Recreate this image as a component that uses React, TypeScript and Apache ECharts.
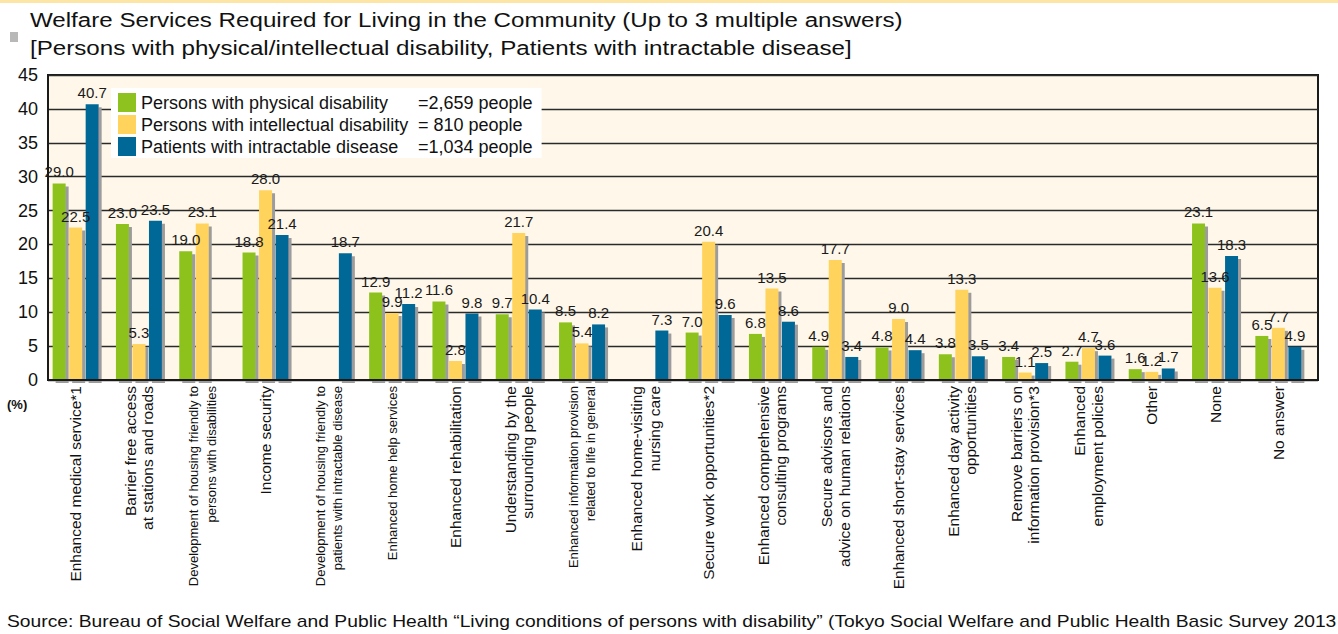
import React, { useEffect, useRef } from "react";
import * as echarts from "echarts";

const FONT = "'Liberation Sans', Arial, sans-serif";

const categories = [
  "Enhanced medical service*1",
  "Barrier free access\nat stations and roads",
  "Development of housing friendly to\npersons with disabilities",
  "Income security",
  "Development of housing friendly to\npatients with intractable disease",
  "Enhanced home help services",
  "Enhanced rehabilitation",
  "Understanding by the\nsurrounding people",
  "Enhanced information provision\nrelated to life in general",
  "Enhanced home-visiting\nnursing care",
  "Secure work opportunities*2",
  "Enhanced comprehensive\nconsulting programs",
  "Secure advisors and\nadvice on human relations",
  "Enhanced short-stay services",
  "Enhanced day activity\nopportunities",
  "Remove barriers on\ninformation provision*3",
  "Enhanced\nemployment policies",
  "Other",
  "None",
  "No answer",
];

// label font sizes per category
const labelSizes = [15.5, 15.5, 13, 15.5, 13, 13, 15.5, 15.5, 13, 15.5, 15.5, 15.5, 15.5, 15.5, 15.5, 15.5, 15.5, 15.5, 15.5, 15.5];

const seriesNames = [
  "Persons with physical disability",
  "Persons with intellectual disability",
  "Patients with intractable disease",
];
const seriesCounts = ["=2,659 people", "= 810 people", "=1,034 people"];
const seriesColors = ["#8DC21F", "#FFD35C", "#006897"];

const physical = [29.0, 23.0, 19.0, 18.8, null, 12.9, 11.6, 9.7, 8.5, null, 7.0, 6.8, 4.9, 4.8, 3.8, 3.4, 2.7, 1.6, 23.1, 6.5];
const intellectual = [22.5, 5.3, 23.1, 28.0, null, 9.9, 2.8, 21.7, 5.4, null, 20.4, 13.5, 17.7, 9.0, 13.3, 1.1, 4.7, 1.2, 13.6, 7.7];
const intractable = [40.7, 23.5, null, 21.4, 18.7, 11.2, 9.8, 10.4, 8.2, 7.3, 9.6, 8.6, 3.4, 4.4, 3.5, 2.5, 3.6, 1.7, 18.3, 4.9];

const yTicks = { min: 0, max: 45, interval: 5 };

const titleLine1 = "Welfare Services Required for Living in the Community (Up to 3 multiple answers)";
const titleLine2 = "[Persons with physical/intellectual disability, Patients with intractable disease]";
const sourceText =
  "Source: Bureau of Social Welfare and Public Health \u201cLiving conditions of persons with disability\u201d (Tokyo Social Welfare and Public Health Basic Survey 2013";

export default function App() {
  const ref = useRef<HTMLDivElement>(null);
  useEffect(() => {
    if (!ref.current) return;
    const chart = echarts.init(ref.current, undefined, { renderer: "svg" });
    const allData = [physical, intellectual, intractable];
    const option: any = {
      animation: false,
      backgroundColor: "#ffffff",
      textStyle: { fontFamily: FONT },
      grid: [
        {
          // frame grid
          left: 48,
          right: 20,
          top: 75,
          bottom: 254,
          show: true,
          backgroundColor: "#FFF8EA",
          borderColor: "#1a1a1a",
          borderWidth: 2,
        },
        {
          // bars grid
          left: 44,
          right: 28,
          top: 75,
          bottom: 254,
        },
      ],
      legend: {
        orient: "vertical",
        left: 111,
        top: 88,
        icon: "rect",
        itemWidth: 18,
        itemHeight: 19,
        itemGap: 3,
        padding: [5, 9, 2, 7],
        backgroundColor: "#ffffff",
        selectedMode: false,
        data: seriesNames,
        textStyle: {
          fontFamily: FONT,
          fontSize: 18,
          color: "#111",
          rich: {
            n: { width: 277, fontSize: 18, color: "#111", fontFamily: FONT },
            v: { fontSize: 18, color: "#111", fontFamily: FONT },
          },
        },
        formatter: (name: string) => {
          const i = seriesNames.indexOf(name);
          return `{n|${name}}{v|${seriesCounts[i]}}`;
        },
      },
      xAxis: [
        {
          gridIndex: 0,
          type: "value",
          min: 0,
          max: 1,
          z: 5,
          axisLine: { show: true, onZero: false, lineStyle: { color: "#1a1a1a", width: 2 } },
          axisTick: { show: false },
          axisLabel: { show: false },
          splitLine: { show: false },
        },
        {
          gridIndex: 1,
          type: "category",
          data: categories.map((c, i) => ({
            value: c,
            textStyle: { fontSize: labelSizes[i], lineHeight: 17.5 },
          })),
          axisLine: { show: false },
          axisTick: { show: false },
          axisLabel: {
            interval: 0,
            rotate: 90,
            margin: 6,
            color: "#111",
            fontFamily: FONT,
            fontSize: 15.5,
            lineHeight: 17.5,
          },
        },
      ],
      yAxis: [
        {
          gridIndex: 0,
          type: "value",
          min: yTicks.min,
          max: yTicks.max,
          interval: yTicks.interval,
          axisLine: { show: true, lineStyle: { color: "#1a1a1a", width: 2 } },
          axisTick: { show: false },
          axisLabel: { color: "#111", fontSize: 18, margin: 10, fontFamily: FONT },
          splitLine: { show: true, lineStyle: { color: "#2a2a2a", width: 1.3 } },
        },
        {
          gridIndex: 1,
          type: "value",
          min: yTicks.min,
          max: yTicks.max,
          interval: yTicks.interval,
          show: false,
          splitLine: { show: false },
        },
      ],
      series: allData.map((d, si) => ({
        name: seriesNames[si],
        type: "bar",
        xAxisIndex: 1,
        yAxisIndex: 1,
        data: d.map((v) => (v === null ? "-" : v)),
        barWidth: 13,
        barGap: "27%",
        itemStyle: {
          color: seriesColors[si],
          shadowColor: "#9c9c9c",
          shadowOffsetX: 3,
          shadowOffsetY: 3,
          shadowBlur: 0,
        },
        label: {
          show: true,
          position: "top",
          distance: 4,
          color: "#1a1a1a",
          fontSize: 15,
          fontFamily: FONT,
          formatter: (p: any) => Number(p.value).toFixed(1),
        },
      })),
      graphic: [
        { type: "rect", x: 0, y: 0, shape: { width: 1338, height: 3 }, style: { fill: "#FDE5A6" } },
        { type: "rect", x: 10, y: 32, shape: { width: 8, height: 10 }, style: { fill: "#B8B8B8" } },
        {
          type: "text",
          x: 30,
          y: 20,
          scaleX: 1.15,
          style: { text: titleLine1, fontSize: 21, fill: "#111", fontFamily: FONT, verticalAlign: "middle" },
        },
        {
          type: "text",
          x: 30,
          y: 48,
          scaleX: 1.15,
          style: { text: titleLine2, fontSize: 21, fill: "#111", fontFamily: FONT, verticalAlign: "middle" },
        },
        {
          type: "text",
          x: 7,
          y: 404,
          style: {
            text: "(%)",
            fontSize: 13,
            fontWeight: "bold",
            fill: "#111",
            fontFamily: FONT,
            verticalAlign: "middle",
          },
        },
        {
          type: "text",
          x: 7,
          y: 622,
          scaleX: 1.205,
          style: { text: sourceText, fontSize: 16, fill: "#111", fontFamily: FONT, verticalAlign: "middle" },
        },
      ],
    };
    chart.setOption(option);
    return () => chart.dispose();
  }, []);
  return (
    <div
      ref={ref}
      style={{ position: "fixed", left: 0, top: 0, width: 1338, height: 634 }}
    />
  );
}
